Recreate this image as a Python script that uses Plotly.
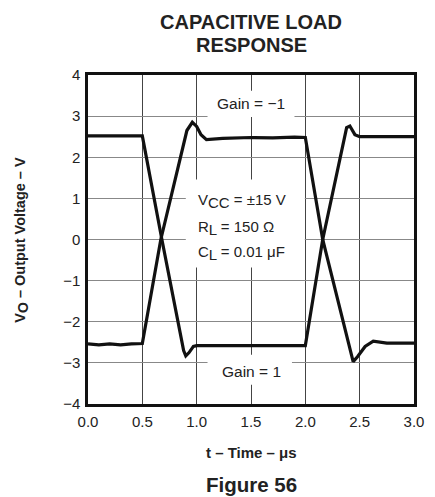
import plotly.graph_objects as go

# trace that starts high (drops at 0.5 us, rises at 2.0 us)
t_a = [0.0, 0.2, 0.4, 0.5, 0.68, 0.88, 0.90, 0.93, 0.97, 1.0,
       1.3, 1.6, 1.9, 2.0, 2.16, 2.38, 2.41, 2.456, 2.50, 2.7, 3.0]
v_a = [2.52, 2.52, 2.52, 2.52, 0.0, -2.7, -2.83, -2.75, -2.6, -2.58,
       -2.58, -2.58, -2.57, -2.58, 0.0, 2.72, 2.76, 2.55, 2.5, 2.5, 2.5]

# trace that starts low (rises at 0.5 us, drops at 2.0 us)
t_b = [0.0, 0.1, 0.2, 0.3, 0.4, 0.5, 0.67, 0.91, 0.96, 1.0, 1.04,
       1.09, 1.24, 1.5, 1.7, 1.9, 2.0, 2.16, 2.44, 2.48,
       2.55, 2.625, 2.75, 3.0]
v_b = [-2.54, -2.56, -2.54, -2.56, -2.54, -2.53, 0.0, 2.65, 2.85, 2.75, 2.55,
       2.43, 2.46, 2.48, 2.47, 2.49, 2.48, 0.0, -2.97, -2.85,
       -2.6, -2.47, -2.52, -2.52]

x_ticks = [0.0, 0.5, 1.0, 1.5, 2.0, 2.5, 3.0]
y_ticks = [-4, -3, -2, -1, 0, 1, 2, 3, 4]

FONT = "Liberation Sans, Arial, sans-serif"
TXT = "#222"

fig = go.Figure()
for t, v in [(t_a, v_a), (t_b, v_b)]:
    fig.add_trace(go.Scatter(x=t, y=v, mode="lines", showlegend=False,
                             line=dict(color="#111111", width=3.2)))

# white boxes behind the labels (hide the grid, stay under the traces)
for x0, x1, y0, y1 in [(1.10, 1.90, 2.98, 3.62), (0.90, 1.995, -0.68, 1.46), (1.10, 1.877, -3.53, -2.80)]:
    fig.add_shape(type="rect", x0=x0, x1=x1, y0=y0, y1=y1, layer="between",
                  fillcolor="white", line_width=0)

fig.add_annotation(x=1.5, y=3.3, text="Gain = \u22121", showarrow=False,
                   font=dict(size=15.5, color=TXT))
fig.add_annotation(x=1.5, y=-3.2, text="Gain = 1", showarrow=False,
                   font=dict(size=15.5, color=TXT))
sub = '<sub><span style="font-size:15px">%s</span></sub>'
params = ["V" + sub % "CC" + " = \u00b115 V",
          "R" + sub % "L" + " = 150 \u03a9",
          "C" + sub % "L" + " = 0.01 \u03bcF"]
for txt, yy in zip(params, [0.94, 0.29, -0.33]):
    fig.add_annotation(x=0.99, y=yy, text=txt, showarrow=False, xanchor="left",
                       font=dict(size=15, color=TXT))

# titles and axis labels (paper coords, explicit anchors)
paper_txt = [
    (0.5, 1.161, "<b>CAPACITIVE LOAD</b>", 20, 0),
    (0.5, 1.091, "<b>RESPONSE</b>", 20, 0),
    (0.5, -0.146, "<b>t \u2013 Time \u2013 \u03bcs</b>", 15, 0),
    (0.5, -0.246, "<b>Figure 56</b>", 20.5, 0),
    (-0.205, 0.5, '<b>V<sub><span style="font-size:14px">O</span></sub> \u2013 Output Voltage \u2013 V</b>', 14.5, -90),
]
for px, py, txt, size, ang in paper_txt:
    fig.add_annotation(xref="paper", yref="paper", x=px, y=py, text=txt, textangle=ang,
                       xanchor="center", yanchor="middle", showarrow=False,
                       font=dict(size=size, color=TXT))

fig.update_xaxes(range=[0, 3], tickvals=x_ticks, tickformat=".1f",
                 showgrid=True, gridcolor="#444", gridwidth=1,
                 showline=True, linecolor="#111", linewidth=2.5, mirror=True,
                 ticks="", zeroline=False, ticklabelstandoff=2,
                 tickfont=dict(size=15, color=TXT))
fig.update_yaxes(range=[-4, 4], tickvals=y_ticks,
                 showgrid=True, gridcolor="#888", gridwidth=1.3,
                 showline=True, linecolor="#111", linewidth=2.5, mirror=True,
                 ticks="", zeroline=False, ticklabelstandoff=2,
                 tickfont=dict(size=15, color=TXT))

# page body adds 8px, so margins are shifted to land the plot where the reference has it
fig.update_layout(width=435, height=497, margin=dict(l=80, r=29, t=67, b=101),
                  plot_bgcolor="white", paper_bgcolor="white",
                  font=dict(family=FONT, color=TXT))

fig.write_html("out.html")
